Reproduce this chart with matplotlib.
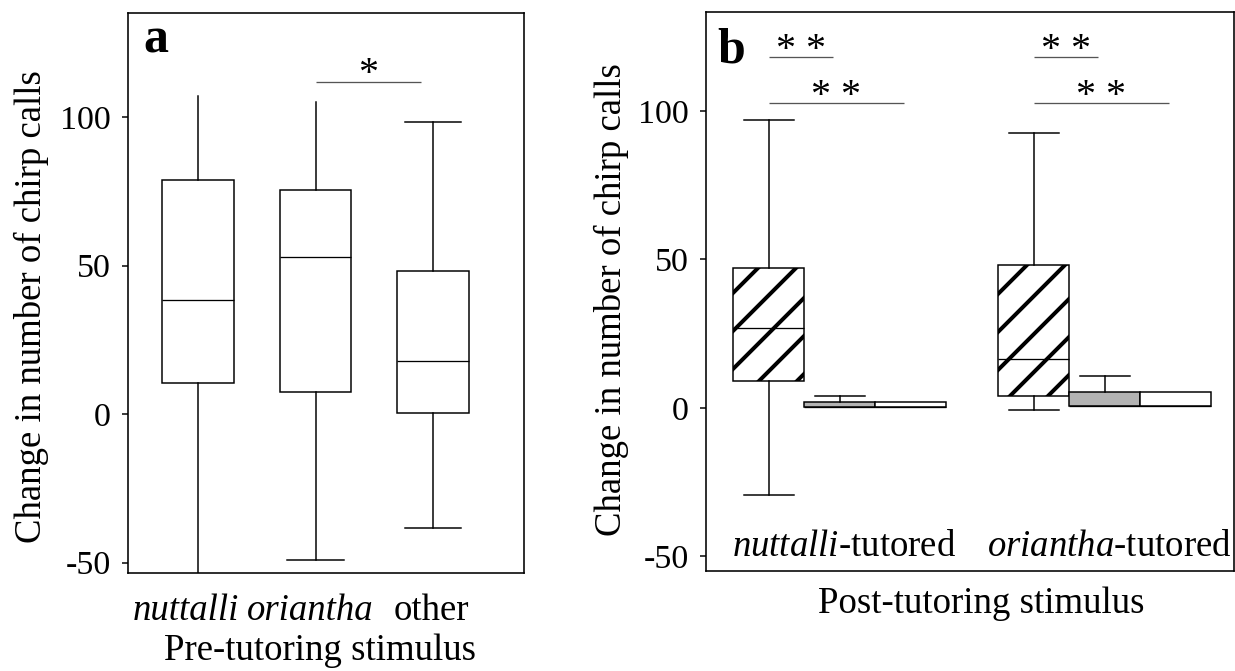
import matplotlib
matplotlib.use('Agg')
import matplotlib.pyplot as plt

DPI = 228
W, H = 1235, 671


def pt(px):
    # pixel size -> points at the figure dpi
    return px * 72.0 / DPI


plt.rcParams['font.family'] = ['Liberation Serif', 'DejaVu Serif']
plt.rcParams['mathtext.fontset'] = 'custom'
plt.rcParams['mathtext.rm'] = 'Liberation Serif'
plt.rcParams['mathtext.it'] = 'Liberation Serif:italic'
plt.rcParams['axes.unicode_minus'] = False
plt.rcParams['hatch.linewidth'] = pt(4)
plt.rcParams['hatch.color'] = 'black'
plt.rcParams['axes.linewidth'] = pt(1.6)

# ---- data: panel a (pre-tutoring stimulus) ----
pre_labels = ['nuttalli', 'oriantha', 'other']
pre_q1 = [10.4, 7.4, 0.3]
pre_med = [38.4, 52.9, 17.8]
pre_q3 = [78.8, 75.4, 48.1]
pre_lo = [-56.0, -49.2, -38.4]
pre_hi = [107.0, 105.0, 98.3]

# ---- data: panel b (post-tutoring, hatched / gray / white per group) ----
post_groups = ['nuttalli', 'oriantha']
post_q1 = [9.1, 0.3, 0.3, 4.0, 0.7, 0.7]
post_med = [26.9, 0.3, 0.3, 16.5, 0.7, 0.7]
post_q3 = [47.1, 2.0, 2.0, 48.1, 5.4, 5.4]
post_lo = [-29.3, 0.3, 0.3, -0.7, 0.7, 0.7]
post_hi = [97.0, 4.0, 2.0, 92.6, 10.8, 5.4]

# significance brackets: (box i, box j, height, stars)
pre_sig = [(1, 2, 111.8, '*')]
post_sig = [(0, 1, 118.0, '* *'), (0, 2, 102.5, '* *'),
            (3, 4, 118.0, '* *'), (3, 5, 102.5, '* *')]

TICK_FS = pt(34)
FS = pt(36.8)
STAR_FS = pt(40)
PANEL_FS = pt(50)


def make_stats(q1, med, q3, lo, hi):
    return [dict(q1=a, med=b, q3=c, whislo=d, whishi=e)
            for a, b, c, d, e in zip(q1, med, q3, lo, hi)]


def draw_boxes(ax, stats, pos, width, capw, caps_on):
    lw = pt(1.5)
    bp = ax.bxp(stats, positions=pos, widths=width, capwidths=capw,
                showfliers=False, patch_artist=True,
                boxprops=dict(facecolor='white', edgecolor='black', linewidth=lw),
                whiskerprops=dict(color='black', linewidth=lw),
                capprops=dict(color='black', linewidth=lw),
                medianprops=dict(color='black', linewidth=pt(1.3)))
    for i, (lo_on, hi_on) in enumerate(caps_on):
        bp['caps'][2 * i].set_visible(lo_on)
        bp['caps'][2 * i + 1].set_visible(hi_on)
    return bp


def draw_sig(ax, pos, sigs):
    for i, j, y, stars in sigs:
        x0, x1 = pos[i], pos[j] - 0.1
        ax.plot([x0, x1], [y, y], color='#555555', lw=pt(1.3), solid_capstyle='butt')
        ax.text((x0 + x1) / 2, y - 0.8, stars, ha='center', va='baseline', fontsize=STAR_FS)


def style_axis(ax):
    ax.set_yticks([-50, 0, 50, 100])
    ax.set_yticklabels(['-50', '0', '50', '100'])
    ax.tick_params(axis='y', length=pt(6), width=pt(1.5), pad=pt(11), labelsize=TICK_FS)
    ax.tick_params(axis='x', length=0, labelsize=FS)


fig = plt.figure(figsize=(W / DPI, H / DPI), dpi=DPI)

# ---- panel a ----
ax_a = fig.add_axes([128 / W, 1 - 573 / H, 396 / W, 560 / H])
pos_a = [1, 2, 3]
draw_boxes(ax_a, make_stats(pre_q1, pre_med, pre_q3, pre_lo, pre_hi), pos_a,
           0.61, 0.48, [(False, False), (True, False), (True, True)])
draw_sig(ax_a, pos_a, pre_sig)
ax_a.set_xlim(0.404, 3.774)
ax_a.set_ylim(-53.5, 135.0)
style_axis(ax_a)
# labels sit a little left of the boxes in the original
ax_a.set_xticks([p + d for p, d in zip(pos_a, [-0.10, -0.045, -0.01])])
ax_a.set_xticklabels(pre_labels)
ax_a.tick_params(axis='x', pad=pt(20), labelsize=FS)
for lbl in ax_a.get_xticklabels()[:2]:
    lbl.set_style('italic')
ax_a.set_xlabel('Pre-tutoring stimulus', fontsize=FS)
ax_a.xaxis.set_label_coords(0.485, -0.108)
ax_a.set_ylabel('Change in number of chirp calls', fontsize=FS, va='center')
ax_a.yaxis.set_label_coords(-0.245, 0.475)
ax_a.text(0.038, 0.929, 'a', transform=ax_a.transAxes, fontsize=PANEL_FS,
          fontweight='bold', ha='left', va='baseline')

# ---- panel b ----
ax_b = fig.add_axes([706 / W, 1 - 571 / H, 528 / W, 559 / H])
gap = 0.73
pos_b = [1, 2, 3, 4 + gap, 5 + gap, 6 + gap]
bp_b = draw_boxes(ax_b, make_stats(post_q1, post_med, post_q3, post_lo, post_hi), pos_b,
                  1.0, 0.70, [(True, True), (False, True), (False, False)] * 2)
for k, box in enumerate(bp_b['boxes']):
    kind = k % 3
    if kind == 0:
        box.set_hatch('//')
    elif kind == 1:
        box.set_facecolor('#b3b3b3')
draw_sig(ax_b, pos_b, post_sig)
ax_b.set_xlim(0.113, 7.55)
ax_b.set_ylim(-54.9, 133.3)
style_axis(ax_b)
ax_b.set_xticks([])
for g, name in enumerate(post_groups):
    cx = (pos_b[3 * g] + pos_b[3 * g + 2]) / 2 + 0.06
    ax_b.text(cx, -49.8, '$' + name + '$-tutored', ha='center', va='baseline', fontsize=FS)
ax_b.set_xlabel('Post-tutoring stimulus', fontsize=FS)
ax_b.xaxis.set_label_coords(0.521, -0.028)
ax_b.set_ylabel('Change in number of chirp calls', fontsize=FS, va='center')
ax_b.yaxis.set_label_coords(-0.18, 0.485)
ax_b.text(0.021, 0.909, 'b', transform=ax_b.transAxes, fontsize=PANEL_FS,
          fontweight='bold', ha='left', va='baseline')

fig.savefig('out.png', dpi=DPI)
